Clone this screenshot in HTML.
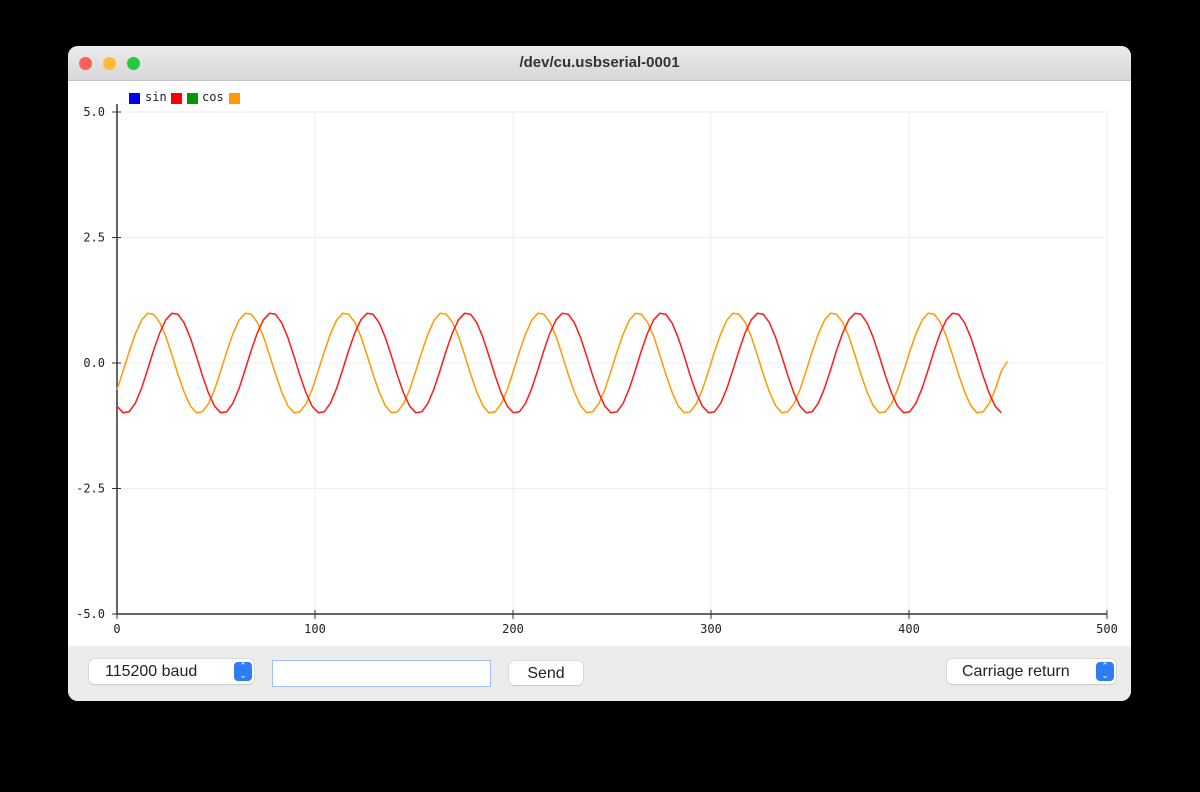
<!DOCTYPE html>
<html><head><meta charset="utf-8"><style>
html,body{margin:0;padding:0;background:#000;width:1200px;height:792px;overflow:hidden;font-family:"Liberation Sans",sans-serif}
#win{position:absolute;left:68px;top:46px;width:1063px;height:655px;border-radius:10px;background:#fff;overflow:hidden}
#title{position:absolute;left:0;top:0;width:100%;height:34px;background:linear-gradient(#ebebeb,#d7d7d7);border-bottom:1px solid #c4c4c4;text-align:center;line-height:34px;font-weight:bold;font-size:15px;color:#333}
.tl{position:absolute;top:11px;width:13px;height:13px;border-radius:50%}
#bottom{position:absolute;left:0;top:600px;width:100%;height:55px;background:#ececec}
.ctl{position:absolute;background:#fff;border-radius:5px;box-shadow:0 0 0 0.5px #c8c8c8,0 1px 1px rgba(0,0,0,.15);font-size:16px;color:#222;line-height:25px}
.step{position:absolute;right:2px;top:3px;width:18px;height:19px;border-radius:4px;background:#2f7df6;color:#fff;font-size:9px;line-height:9px;text-align:center}
</style></head><body>
<div id="win">
 <div id="title">/dev/cu.usbserial-0001
  <div class="tl" style="left:11px;background:#fe5f57"></div>
  <div class="tl" style="left:35px;background:#febc2e"></div>
  <div class="tl" style="left:59px;background:#28c840"></div>
 </div>
 <div id="bottom">
  <div class="ctl" style="left:21px;top:13px;width:165px;height:25px"><span style="padding-left:16px">115200 baud</span><div class="step" style="top:3px">⌃<br>⌄</div></div>
  <div style="position:absolute;left:204px;top:14px;width:217px;height:25px;background:#fff;border:1px solid #9cc2f5"></div>
  <div class="ctl" style="left:441px;top:15px;width:74px;height:24px;text-align:center">Send</div>
  <div class="ctl" style="left:879px;top:13px;width:169px;height:25px"><span style="padding-left:15px">Carriage return</span><div class="step">⌃<br>⌄</div></div>
 </div>
</div>
<svg id="chart" width="1200" height="792" style="position:absolute;left:0;top:0"></svg>
<script>
const xTicks=[0,100,200,300,400,500];
const yTicks=[5.0,2.5,0.0,-2.5,-5.0];
const sampleStep=3.08;
const sinValues=[
-0.86,-0.99,-0.97,-0.80,-0.51,-0.14,0.25,0.60,0.86,0.99,0.97,0.80,0.51,0.14,-0.25,-0.60,
-0.86,-0.99,-0.97,-0.80,-0.51,-0.14,0.25,0.60,0.86,0.99,0.97,0.80,0.51,0.14,-0.25,-0.60,
-0.86,-0.99,-0.97,-0.80,-0.51,-0.14,0.25,0.60,0.86,0.99,0.97,0.80,0.51,0.14,-0.25,-0.60,
-0.86,-0.99,-0.97,-0.80,-0.51,-0.14,0.25,0.60,0.86,0.99,0.97,0.80,0.51,0.14,-0.25,-0.60,
-0.86,-0.99,-0.97,-0.80,-0.51,-0.14,0.25,0.60,0.86,0.99,0.97,0.80,0.51,0.14,-0.25,-0.60,
-0.86,-0.99,-0.97,-0.80,-0.51,-0.14,0.25,0.60,0.86,0.99,0.97,0.80,0.51,0.14,-0.25,-0.60,
-0.86,-0.99,-0.97,-0.80,-0.51,-0.14,0.25,0.60,0.86,0.99,0.97,0.80,0.51,0.14,-0.25,-0.60,
-0.86,-0.99,-0.97,-0.80,-0.51,-0.14,0.25,0.60,0.86,0.99,0.97,0.80,0.51,0.14,-0.25,-0.60,
-0.86,-0.99,-0.97,-0.80,-0.51,-0.14,0.25,0.60,0.86,0.99,0.97,0.80,0.51,0.14,-0.25,-0.60,
-0.86,-0.99];
const cosValues=[
-0.53,-0.16,0.23,0.58,0.85,0.99,0.97,0.81,0.53,0.16,-0.23,-0.58,-0.85,-0.99,-0.97,-0.81,
-0.53,-0.16,0.23,0.58,0.85,0.99,0.97,0.81,0.53,0.16,-0.23,-0.58,-0.85,-0.99,-0.97,-0.81,
-0.53,-0.16,0.23,0.58,0.85,0.99,0.97,0.81,0.53,0.16,-0.23,-0.58,-0.85,-0.99,-0.97,-0.81,
-0.53,-0.16,0.23,0.58,0.85,0.99,0.97,0.81,0.53,0.16,-0.23,-0.58,-0.85,-0.99,-0.97,-0.81,
-0.53,-0.16,0.23,0.58,0.85,0.99,0.97,0.81,0.53,0.16,-0.23,-0.58,-0.85,-0.99,-0.97,-0.81,
-0.53,-0.16,0.23,0.58,0.85,0.99,0.97,0.81,0.53,0.16,-0.23,-0.58,-0.85,-0.99,-0.97,-0.81,
-0.53,-0.16,0.23,0.58,0.85,0.99,0.97,0.81,0.53,0.16,-0.23,-0.58,-0.85,-0.99,-0.97,-0.81,
-0.53,-0.16,0.23,0.58,0.85,0.99,0.97,0.81,0.53,0.16,-0.23,-0.58,-0.85,-0.99,-0.97,-0.81,
-0.53,-0.16,0.23,0.58,0.85,0.99,0.97,0.81,0.53,0.16,-0.23,-0.58,-0.85,-0.99,-0.97,-0.81,
-0.53,-0.16,0.03];
const svg=document.getElementById('chart');
const NS='http://www.w3.org/2000/svg';
const X0=117,X1=1107,Y0=614,Y1=112;
function sx(v){return X0+(v-0)/(500-0)*(X1-X0);}
function sy(v){return Y0-(v+5)/10*(Y0-Y1);}
function mk(tag,attrs){const e=document.createElementNS(NS,tag);for(const k in attrs)e.setAttribute(k,attrs[k]);svg.appendChild(e);return e;}
const mono='"DejaVu Sans Mono","Liberation Mono",monospace';
xTicks.forEach(t=>{if(t>0){const g=mk('line',{x1:sx(t),x2:sx(t),y1:Y1,y2:Y0,stroke:'#efefef','stroke-width':1});

}
const tk=mk('line',{x1:sx(t),x2:sx(t),y1:Y0-4,y2:Y0+5,stroke:'#333','stroke-width':1});


const l=mk('text',{x:sx(t),y:Y0+19,'text-anchor':'middle','font-size':12,'font-family':mono,fill:'#222'});l.textContent=t;

});
yTicks.forEach(t=>{if(t>-5){const g=mk('line',{x1:X0,x2:X1,y1:sy(t),y2:sy(t),stroke:'#efefef','stroke-width':1});

}
const tk=mk('line',{x1:X0-5,x2:X0+4,y1:sy(t),y2:sy(t),stroke:'#333','stroke-width':1});


const l=mk('text',{x:X0-12,y:sy(t)+4,'text-anchor':'end','font-size':12,'font-family':mono,fill:'#222'});l.textContent=t.toFixed(1);

});
const ya=mk('line',{x1:X0,x2:X0,y1:Y1-8,y2:Y0,stroke:'#333','stroke-width':1.5});


const xa=mk('line',{x1:X0,x2:X1,y1:Y0,y2:Y0,stroke:'#333','stroke-width':1.5});


function series(vals,color,name){const pts=vals.map((v,i)=>sx(i*sampleStep).toFixed(1)+','+sy(v).toFixed(1)).join(' ');
const p=mk('polyline',{points:pts,fill:'none',stroke:color,'stroke-width':1.5,'stroke-linejoin':'round'});

}
series(cosValues,'#ff9a00','cos-line');
series(sinValues,'#ff1a1a','sin-line');
const legend=[['#0000ff',129],['#ff0000',171],['#009900',187],['#ff9900',229]];
legend.forEach(([c,x])=>{const r=mk('rect',{x:x,y:93,width:11,height:11,fill:c});

});
const t1=mk('text',{x:145,y:101,'font-size':12,'font-family':mono,fill:'#222'});t1.textContent='sin';


const t2=mk('text',{x:202,y:101,'font-size':12,'font-family':mono,fill:'#222'});t2.textContent='cos';


</script>
</body></html>
